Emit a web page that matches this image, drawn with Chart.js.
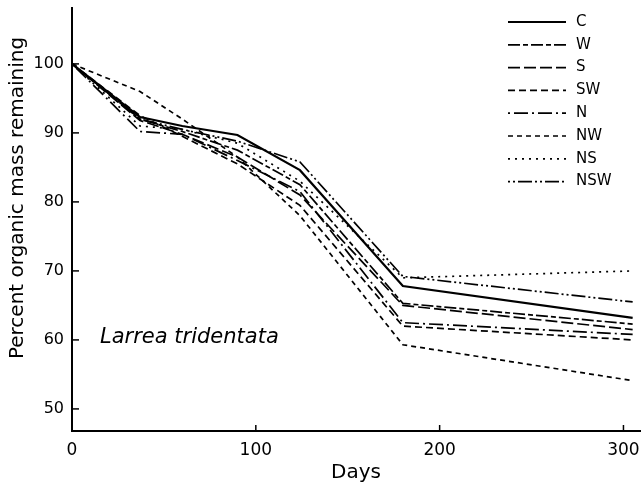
<!DOCTYPE html>
<html>
<head>
<meta charset="utf-8">
<script src="https://cdn.jsdelivr.net/npm/chart.js@4"></script>
<style>
  html, body { margin: 0; padding: 0; background: #fff; }
  #wrap { width: 642px; height: 489px; }
</style>
</head>
<body>
<div id="wrap"><canvas id="grafico"></canvas></div>
<script>
// sampling days (x) shared by every treatment
const dias = [0, 37, 60, 90, 124, 180, 305];

const serieC   = [100, 92.3, 91.0, 89.7, 84.6, 67.8, 63.2];
const serieW   = [100, 92.0, 90.2, 87.5, 82.5, 65.3, 62.3];
const serieS   = [100, 91.8, 89.8, 86.5, 81.0, 65.0, 61.5];
const serieSW  = [100, 92.5, 89.5, 85.5, 79.5, 62.0, 60.0];
const serieN   = [100, 90.2, 89.8, 86.0, 81.5, 62.5, 60.8];
const serieNW  = [100, 96.0, 92.0, 86.5, 78.0, 59.3, 54.1];
const serieNS  = [100, 91.0, 90.5, 88.5, 83.0, 69.0, 70.0];
const serieNSW = [100, 92.0, 90.5, 88.8, 85.8, 69.2, 65.5];

const nomes = ["C", "W", "S", "SW", "N", "NW", "NS", "NSW"];
const series = [serieC, serieW, serieS, serieSW, serieN, serieNW, serieNS, serieNSW];
const tracos = [
  [],
  [12, 3, 5, 3],
  [12, 4],
  [7, 4],
  [2, 4, 14, 4],
  [5, 4],
  [2, 5],
  [2, 3, 2, 3, 14, 3]
];

const ticksX = [0, 100, 200, 300];
const ticksY = [50, 60, 70, 80, 90, 100];

const fonte = "DejaVu Sans";

const datasets = series.map((s, i) => ({
  label: nomes[i],
  data: s.map((v, j) => ({ x: dias[j], y: v })),
  borderColor: "#000",
  borderWidth: i === 0 ? 2.2 : 1.7,
  borderDash: tracos[i],
  pointRadius: 0,
  fill: false,
  tension: 0
}));

// inward tick marks, y title, legend and species label
const extras = {
  id: "extras",
  afterDraw(chart) {
    const ctx = chart.ctx;
    const sx = chart.scales.x, sy = chart.scales.y;
    const area = chart.chartArea;
    ctx.save();
    ctx.strokeStyle = "#000";
    ctx.fillStyle = "#000";
    ctx.lineWidth = 1.5;
    ctx.setLineDash([]);
    ticksY.forEach(v => {
      const y = sy.getPixelForValue(v);
      ctx.beginPath();
      ctx.moveTo(area.left, y);
      ctx.lineTo(area.left + 7, y);
      ctx.stroke();
    });
    ticksX.slice(1).forEach(v => {
      const x = sx.getPixelForValue(v);
      ctx.beginPath();
      ctx.moveTo(x, area.bottom);
      ctx.lineTo(x, area.bottom - 6);
      ctx.stroke();
    });

    // y title
    ctx.save();
    ctx.translate(18, 198);
    ctx.rotate(-Math.PI / 2);
    ctx.font = "20px '" + fonte + "'";
    ctx.textAlign = "center";
    ctx.textBaseline = "middle";
    ctx.fillText("Percent organic mass remaining", 0, 0);
    ctx.restore();

    // legend
    ctx.font = "15px '" + fonte + "'";
    ctx.textBaseline = "middle";
    ctx.textAlign = "left";
    chart.data.datasets.forEach((d, i) => {
      const y = 22 + i * 22.8;
      ctx.lineWidth = d.borderWidth;
      ctx.setLineDash(d.borderDash);
      ctx.beginPath();
      ctx.moveTo(508, y);
      ctx.lineTo(566, y);
      ctx.stroke();
      ctx.fillText(d.label, 576, y);
    });

    ctx.setLineDash([]);
    ctx.font = "italic 21px '" + fonte + "'";
    ctx.fillText("Larrea tridentata", 100, 338);
    ctx.restore();
  }
};

new Chart(document.getElementById("grafico"), {
  type: "line",
  data: { datasets },
  options: {
    responsive: true,
    maintainAspectRatio: false,
    animation: false,
    layout: { padding: { top: 8, right: 2, left: 0, bottom: 0 } },
    plugins: { legend: { display: false }, tooltip: { enabled: false } },
    scales: {
      x: {
        type: "linear",
        min: 0,
        max: 309,
        afterBuildTicks: s => { s.ticks = ticksX.map(v => ({ value: v })); },
        afterFit: s => { s.height = 58; s.paddingLeft = 0; s.paddingRight = 0; },
        grid: { display: false, drawTicks: false },
        border: { display: true, color: "#000", width: 2 },
        ticks: {
          padding: 9,
          color: "#000",
          font: { family: fonte, size: 17 }
        },
        title: {
          display: true,
          text: "Days",
          color: "#000",
          padding: { top: 0 },
          font: { family: fonte, size: 20 }
        }
      },
      y: {
        min: 46.8,
        max: 108.1,
        afterBuildTicks: s => { s.ticks = ticksY.map(v => ({ value: v })); },
        afterFit: s => { s.width = 72; s.paddingTop = 0; s.paddingBottom = 0; },
        grid: { display: false, drawTicks: false },
        border: { display: true, color: "#000", width: 2 },
        ticks: {
          padding: 8,
          color: "#000",
          font: { family: fonte, size: 16 }
        },
        title: { display: false }
      }
    }
  },
  plugins: [extras]
});
</script>
</body>
</html>
